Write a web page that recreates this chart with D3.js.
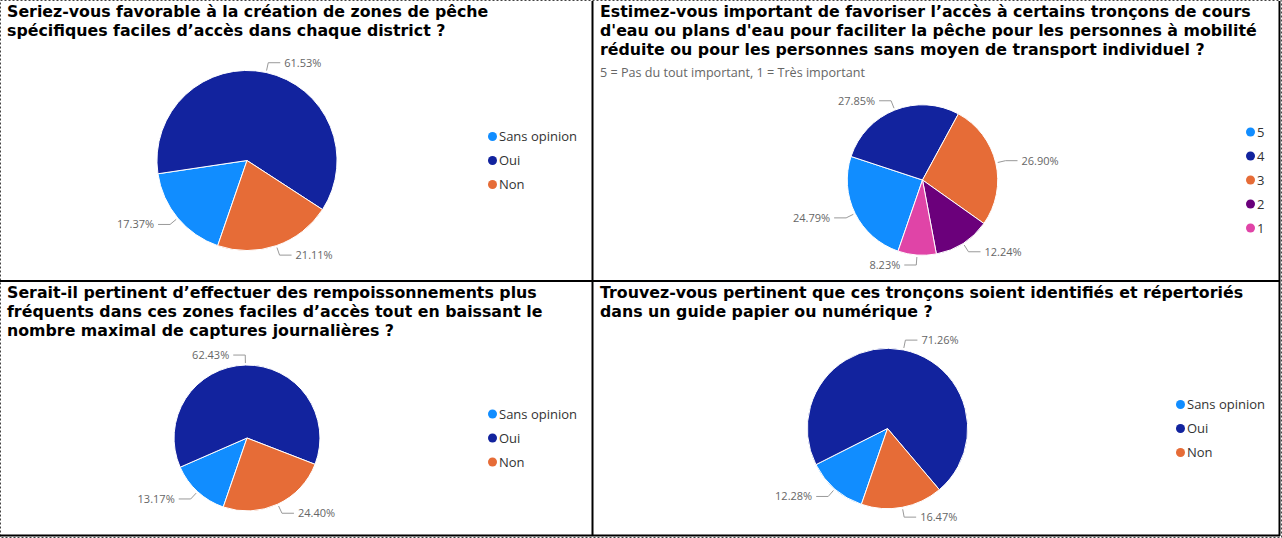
<!DOCTYPE html>
<html><head><meta charset="utf-8">
<script src="https://cdn.jsdelivr.net/npm/d3@7"></script>
<style>
html,body{margin:0;padding:0;background:#fff;}
svg{display:block;}
</style></head>
<body>
<svg id="c" width="1282" height="538"></svg>
<script>
// ---- data ----
const title1 = ["Seriez-vous favorable à la création de zones de pêche", "spécifiques faciles d’accès dans chaque district ?"];
const title2 = ["Estimez-vous important de favoriser l’accès à certains tronçons de cours", "d'eau ou plans d'eau pour faciliter la pêche pour les personnes à mobilité", "réduite ou pour les personnes sans moyen de transport individuel ?"];
const subtitle2 = "5 = Pas du tout important, 1 = Très important";
const title3 = ["Serait-il pertinent d’effectuer des rempoissonnements plus", "fréquents dans ces zones faciles d’accès tout en baissant le", "nombre maximal de captures journalières ?"];
const title4 = ["Trouvez-vous pertinent que ces tronçons soient identifiés et répertoriés", "dans un guide papier ou numérique ?"];

const catsYesNo = ["Sans opinion", "Oui", "Non"];
const colorsYesNo = ["#118DFF", "#12239E", "#E66C37"];
const valsQ1 = [17.37, 61.53, 21.11];
const valsQ3 = [13.17, 62.43, 24.40];
const valsQ4 = [12.28, 71.26, 16.47];

const catsScale = ["5", "4", "3", "2", "1"];
const colorsScale = ["#118DFF", "#12239E", "#E66C37", "#6B007B", "#E044A7"];
const valsQ2 = [24.79, 27.85, 26.90, 12.24, 8.23];

// ---- layout ----
const svg = d3.select("#c");
const panels = [
  {left:0, right:592, top:0, bottom:281, title:title1, sub:null, cats:catsYesNo, vals:valsQ1, colors:colorsYesNo},
  {left:593, right:1280, top:0, bottom:281, title:title2, sub:subtitle2, cats:catsScale, vals:valsQ2, colors:colorsScale},
  {left:0, right:592, top:281, bottom:536, title:title3, sub:null, cats:catsYesNo, vals:valsQ3, colors:colorsYesNo},
  {left:593, right:1280, top:281, bottom:536, title:title4, sub:null, cats:catsYesNo, vals:valsQ4, colors:colorsYesNo}
];

const startDeg = 199;
const pie = d3.pie().sort(null).value(d => d.v)
  .startAngle(startDeg * Math.PI / 180)
  .endAngle(startDeg * Math.PI / 180 + 2 * Math.PI);

panels.forEach(p => {
  const g = svg.append("g");
  // title
  p.title.forEach((line, i) => {
    g.append("text").attr("x", p.left + 7).attr("y", p.top + 17 + i * 19)
      .attr("font-family", "DejaVu Sans").attr("font-weight", "bold")
      .attr("font-size", 15.8).attr("fill", "#000").text(line);
  });
  if (p.sub) {
    g.append("text").attr("x", p.left + 7).attr("y", p.top + 17 + p.title.length * 19 + 3)
      .attr("font-family", "Open Sans").attr("font-size", 12.6).attr("fill", "#666").text(p.sub);
  }
  const plotTop = p.top + 6 + 19 * p.title.length + (p.sub ? 20 : 0);
  const h = p.bottom - plotTop;
  const r = 0.38 * h;
  const cy = plotTop + h / 2 - 2;

  // legend
  const color = d3.scaleOrdinal().domain(p.cats).range(p.colors);
  const lg = g.append("g");
  const items = lg.selectAll("g").data(p.cats).join("g")
    .attr("transform", (d, i) => `translate(0,${(i - (p.cats.length - 1) / 2) * 24})`);
  items.append("circle").attr("cx", 4.5).attr("cy", 0).attr("r", 4.5).attr("fill", d => color(d));
  items.append("text").attr("x", 11).attr("y", 0).attr("dy", "0.35em")
    .attr("font-family", "Open Sans").attr("font-size", 13).attr("fill", "#333").text(d => d);
  const lw = lg.node().getBBox().width;
  const legendLeft = p.right - 15 - lw;
  lg.attr("transform", `translate(${legendLeft},${cy})`);

  const cx = (p.left + legendLeft) / 2 + 3;

  const data = p.cats.map((c, i) => ({c, v: p.vals[i]}));
  const arcs = pie(data);
  const arc = d3.arc().innerRadius(0).outerRadius(r);
  const pg = g.append("g").attr("transform", `translate(${cx},${cy})`);
  pg.selectAll("path").data(arcs).join("path")
    .attr("d", arc).attr("fill", d => color(d.data.c))
    .attr("stroke", "#fff").attr("stroke-width", 1).attr("stroke-linejoin", "round");

  const a1 = d3.arc().innerRadius(r + 2).outerRadius(r + 2);
  const a2 = d3.arc().innerRadius(r + 10).outerRadius(r + 10);
  arcs.forEach(d => {
    const p1 = a1.centroid(d), p2 = a2.centroid(d);
    const side = p2[0] >= 0 ? 1 : -1;
    const p3 = [p2[0] + side * 12, p2[1]];
    pg.append("polyline").attr("points", [p1, p2, p3].map(q => q.join(",")).join(" "))
      .attr("fill", "none").attr("stroke", "#999").attr("stroke-width", 1);
    pg.append("text").attr("x", p3[0] + side * 4).attr("y", p3[1]).attr("dy", "0.35em")
      .attr("text-anchor", side > 0 ? "start" : "end")
      .attr("font-family", "Open Sans").attr("font-size", 11).attr("fill", "#666")
      .text(d.data.v.toFixed(2) + "%");
  });
});

// borders
svg.append("rect").attr("x", 0.5).attr("y", 0.5).attr("width", 1281).attr("height", 537)
  .attr("fill", "none").attr("stroke", "#444").attr("stroke-dasharray", "2,2");
const solid = [[592.5, 1, 592.5, 536], [1279.5, 1, 1279.5, 536], [0, 281, 1280, 281], [0, 535.5, 1280, 535.5]];
svg.selectAll("line.b").data(solid).join("line").attr("class", "b")
  .attr("x1", d => d[0]).attr("y1", d => d[1]).attr("x2", d => d[2]).attr("y2", d => d[3])
  .attr("stroke", "#000").attr("stroke-width", 2);
</script>
</body></html>
